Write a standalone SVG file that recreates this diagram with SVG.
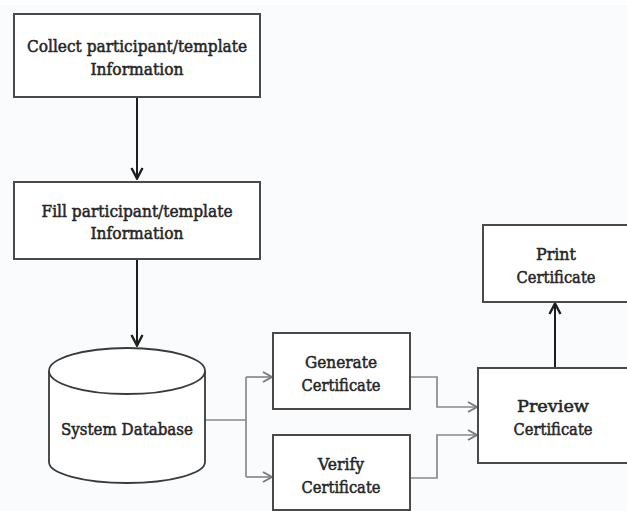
<svg xmlns="http://www.w3.org/2000/svg" width="627" height="511" viewBox="0 0 627 511">
  <style>
    .box { fill: #ffffff; stroke: #4a4a4a; stroke-width: 2; }
    .db { fill: #ffffff; stroke: #3a3a3a; stroke-width: 1.8; }
    .lbl { font-family: "DejaVu Serif", "Liberation Serif", serif; font-size: 17.5px; fill: #262626; stroke: #262626; stroke-width: 0.55; text-anchor: middle; }
    .dark { fill: none; stroke: #1e1e1e; stroke-width: 2; }
    .grey { fill: none; stroke: #8a8a8a; stroke-width: 1.7; }
  </style>
  <defs>
    <marker id="arrDark" viewBox="0 0 14 14" refX="13" refY="7" markerWidth="14" markerHeight="14" markerUnits="userSpaceOnUse" orient="auto">
      <path d="M2,1.5 L12.5,7 L2,12.5" fill="none" stroke="#1e1e1e" stroke-width="2.4"/>
    </marker>
    <marker id="arrGrey" viewBox="0 0 12 12" refX="11" refY="6" markerWidth="12" markerHeight="12" markerUnits="userSpaceOnUse" orient="auto">
      <path d="M2,1 L11,6 L2,11" fill="none" stroke="#7a7a7a" stroke-width="2"/>
    </marker>
  </defs>

  <rect x="0" y="0" width="627" height="511" fill="#fafbfd"/>
  <rect x="0" y="0" width="627" height="5" fill="#ffffff"/>

  <!-- connectors -->
  <g id="connectors">
    <line class="dark" x1="137" y1="97" x2="137" y2="179" marker-end="url(#arrDark)"/>
    <line class="dark" x1="137" y1="259" x2="137" y2="346" marker-end="url(#arrDark)"/>
    <polyline class="grey" points="205,420 246,420"/>
    <polyline class="grey" points="246,377 246,477"/>
    <polyline class="grey" points="246,377 272,377" marker-end="url(#arrGrey)"/>
    <polyline class="grey" points="246,477 272,477" marker-end="url(#arrGrey)"/>
    <polyline class="grey" points="410,377 437,377 437,407 477,407" marker-end="url(#arrGrey)"/>
    <polyline class="grey" points="410,478 437,478 437,435 477,435" marker-end="url(#arrGrey)"/>
    <line class="dark" x1="555" y1="368" x2="555" y2="303" marker-end="url(#arrDark)"/>
  </g>

  <g id="collect">
    <rect class="box" x="14" y="14" width="246" height="83"/>
    <text class="lbl" x="137" y="52" textLength="220" lengthAdjust="spacingAndGlyphs">Collect participant/template</text>
    <text class="lbl" x="137" y="75" textLength="93" lengthAdjust="spacingAndGlyphs">Information</text>
  </g>

  <g id="fill">
    <rect class="box" x="14" y="182" width="246" height="77"/>
    <text class="lbl" x="137" y="217" textLength="191" lengthAdjust="spacingAndGlyphs">Fill participant/template</text>
    <text class="lbl" x="137" y="239" textLength="93" lengthAdjust="spacingAndGlyphs">Information</text>
  </g>

  <g id="database">
    <path class="db" d="M49,371 L49,462 A78,21 0 0 0 205,462 L205,371"/>
    <ellipse class="db" cx="127" cy="371" rx="78" ry="23"/>
    <text class="lbl" x="127" y="435" textLength="132" lengthAdjust="spacingAndGlyphs">System Database</text>
  </g>

  <g id="generate">
    <rect class="box" x="273" y="333" width="137" height="76"/>
    <text class="lbl" x="341" y="368" textLength="72" lengthAdjust="spacingAndGlyphs">Generate</text>
    <text class="lbl" x="341" y="391" textLength="79" lengthAdjust="spacingAndGlyphs">Certificate</text>
  </g>

  <g id="verify">
    <rect class="box" x="273" y="435" width="137" height="75"/>
    <text class="lbl" x="341" y="470" textLength="46" lengthAdjust="spacingAndGlyphs">Verify</text>
    <text class="lbl" x="341" y="493" textLength="79" lengthAdjust="spacingAndGlyphs">Certificate</text>
  </g>

  <g id="preview">
    <rect class="box" x="478" y="368" width="155" height="95"/>
    <text class="lbl" x="553" y="412" textLength="72" lengthAdjust="spacingAndGlyphs">Preview</text>
    <text class="lbl" x="553" y="435" textLength="79" lengthAdjust="spacingAndGlyphs">Certificate</text>
  </g>

  <g id="print">
    <rect class="box" x="483" y="225" width="150" height="77"/>
    <text class="lbl" x="556" y="260" textLength="40" lengthAdjust="spacingAndGlyphs">Print</text>
    <text class="lbl" x="556" y="283" textLength="79" lengthAdjust="spacingAndGlyphs">Certificate</text>
  </g>
</svg>
